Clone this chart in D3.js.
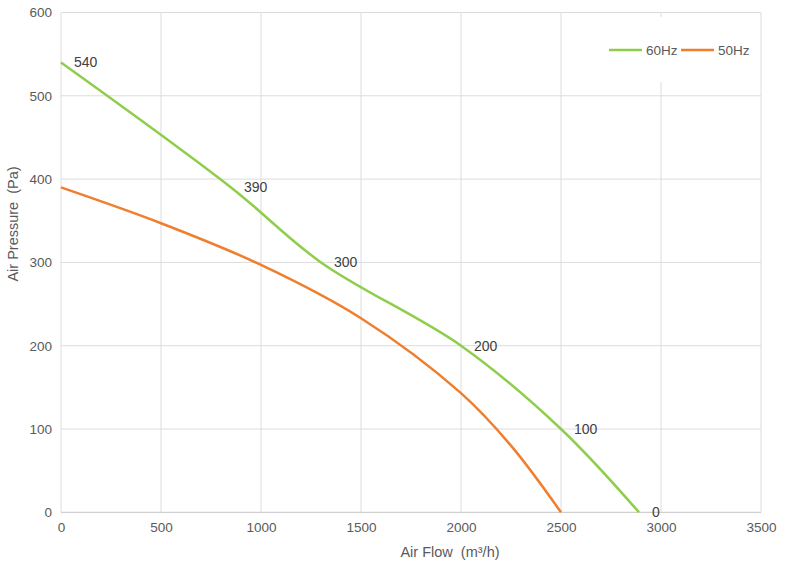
<!DOCTYPE html>
<html>
<head>
<meta charset="utf-8">
<script src="https://cdn.jsdelivr.net/npm/d3@7"></script>
<style>
  html, body { margin: 0; padding: 0; background: #fff; }
  svg { display: block; font-family: "Liberation Sans", Arial, Helvetica, sans-serif; }
  .ttl { white-space: pre; }
</style>
</head>
<body>
<svg id="chart" width="789" height="569"></svg>
<script>
// ---- data ----
const xTicks = [0, 500, 1000, 1500, 2000, 2500, 3000, 3500];
const yTicks = [0, 100, 200, 300, 400, 500, 600];

const flow60 = [0, 850, 1300, 2000, 2500, 2890];
const pressure60 = [540, 390, 300, 200, 100, 0];

const flow50 = [0, 500, 1000, 1500, 2000, 2250, 2500];
const pressure50 = [390, 347, 297, 233, 143, 80, 0];

const seriesNames = ["60Hz", "50Hz"];
const seriesColors = ["#8fce4a", "#ef7e2e"];

const xTitle = "Air Flow  (m³/h)";
const yTitle = "Air Pressure  (Pa)";

(function () {
// ---- layout ----
const svg = d3.select("#chart");
const pLeft = 61, pRight = 761, pTop = 12.5, pBottom = 512.3;

const x = d3.scaleLinear().domain([0, 3500]).range([pLeft, pRight]);
const y = d3.scaleLinear().domain([0, 600]).range([pBottom, pTop]);

// grid
const grid = svg.append("g");
grid.selectAll("line.v").data(xTicks).enter().append("line")
  .attr("x1", d => x(d)).attr("x2", d => x(d))
  .attr("y1", pTop).attr("y2", pBottom)
  .attr("stroke", "#dcdcdc").attr("stroke-width", 1);
grid.selectAll("line.h").data(yTicks).enter().append("line")
  .attr("x1", pLeft).attr("x2", pRight)
  .attr("y1", d => y(d)).attr("y2", d => y(d))
  .attr("stroke", d => d === 0 ? "#c4c4c4" : "#dcdcdc").attr("stroke-width", 1);

// legend background (covers gridline)
svg.append("rect").attr("x", 600).attr("y", 17).attr("width", 157).attr("height", 65)
  .attr("fill", "#fff");

// axes labels via d3 axes
const fmt = d3.format("d");
const xAxis = d3.axisBottom(x).tickValues(xTicks).tickFormat(fmt).tickSize(0).tickPadding(10);
const gx = svg.append("g").attr("transform", `translate(0,${pBottom})`).call(xAxis);
gx.select(".domain").remove();
gx.selectAll("text").attr("fill", "#5a5a5a").attr("font-size", 13.5)
  .attr("font-family", "'Liberation Sans', Arial, sans-serif").attr("dy", "0.71em");

const yAxis = d3.axisLeft(y).tickValues(yTicks).tickFormat(fmt).tickSize(0).tickPadding(9);
const gy = svg.append("g").attr("transform", `translate(${pLeft},0)`).call(yAxis);
gy.select(".domain").remove();
gy.selectAll("text").attr("fill", "#5a5a5a").attr("font-size", 13.5)
  .attr("font-family", "'Liberation Sans', Arial, sans-serif");

// titles
svg.append("text").attr("class", "ttl").attr("x", 450).attr("y", 557).attr("text-anchor", "middle")
  .attr("fill", "#5a5a5a").attr("font-size", 14.5).text(xTitle);
svg.append("text").attr("class", "ttl").attr("transform", "translate(18,224) rotate(-90)")
  .attr("text-anchor", "middle").attr("fill", "#5a5a5a").attr("font-size", 14.5).text(yTitle);

// lines
const line = d3.line().x(d => x(d[0])).y(d => y(d[1])).curve(d3.curveCatmullRom.alpha(0.5));
const data60 = flow60.map((f, i) => [f, pressure60[i]]);
const data50 = flow50.map((f, i) => [f, pressure50[i]]);

svg.append("path").datum(data50).attr("d", line).attr("fill", "none")
  .attr("stroke", seriesColors[1]).attr("stroke-width", 2.5);
svg.append("path").datum(data60).attr("d", line).attr("fill", "none")
  .attr("stroke", seriesColors[0]).attr("stroke-width", 2.5);

// data labels for 60Hz
svg.selectAll("text.dl").data(data60).enter().append("text")
  .attr("class", "dl")
  .attr("x", d => x(d[0]) + 13).attr("y", d => y(d[1]))
  .attr("dy", "0.35em").attr("fill", "#404040").attr("font-size", 14)
  .text(d => d[1]);

// legend
const legend = [{ name: seriesNames[0], color: seriesColors[0], x0: 609 },
                { name: seriesNames[1], color: seriesColors[1], x0: 681 }];
const lg = svg.selectAll("g.lg").data(legend).enter().append("g").attr("class", "lg");
lg.append("line").attr("x1", d => d.x0).attr("x2", d => d.x0 + 33)
  .attr("y1", 50).attr("y2", 50).attr("stroke", d => d.color).attr("stroke-width", 2.5);
lg.append("text").attr("x", d => d.x0 + 37).attr("y", 50).attr("dy", "0.35em")
  .attr("fill", "#5a5a5a").attr("font-size", 13.5).text(d => d.name);
})();
</script>
</body>
</html>
